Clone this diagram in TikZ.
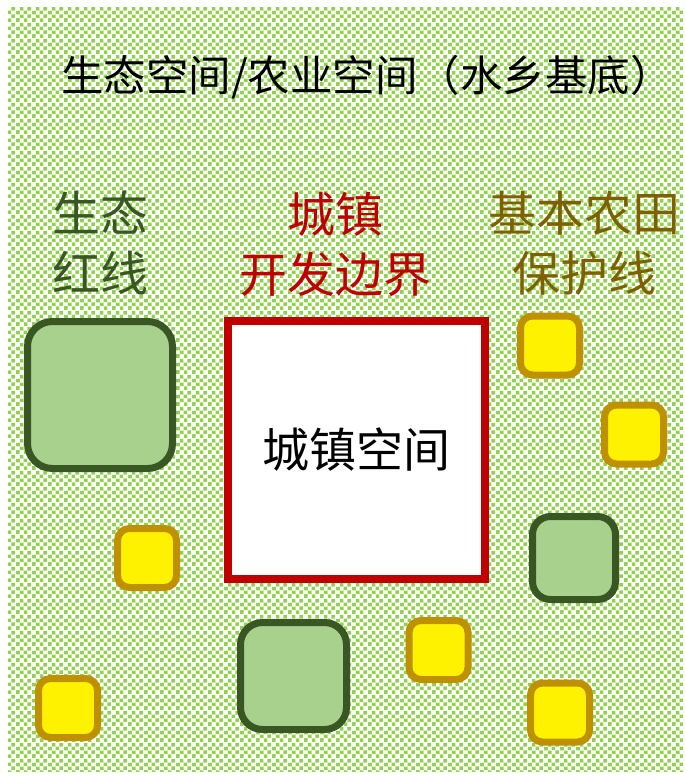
\documentclass[tikz,border=0pt]{standalone}
\usepackage{fontspec}
\setmainfont{Noto Sans CJK SC}
\usetikzlibrary{patterns.meta}
\definecolor{patgreen}{HTML}{92D050}
\definecolor{darkgreen}{HTML}{385723}
\definecolor{lightgreen}{HTML}{A9D18E}
\definecolor{deepred}{HTML}{C00000}
\definecolor{olive}{HTML}{7F6000}
\definecolor{gold}{HTML}{BF9000}
\tikzdeclarepattern{
  name=confetti,
  type=uncolored,
  bounding box={(0pt,0pt) and (16pt,16pt)},
  tile size={(16pt,16pt)},
  code={
    \fill (0.0pt,0.2pt) rectangle (3.8pt,4.0pt);
    \fill (8.3pt,0.0pt) rectangle (12.1pt,3.8pt);
    \fill (4.2pt,4.1pt) rectangle (8.0pt,7.9pt);
    \fill (12.0pt,4.3pt) rectangle (15.8pt,8.1pt);
    \fill (0.2pt,8.1pt) rectangle (4.0pt,11.9pt);
    \fill (8.0pt,8.3pt) rectangle (11.8pt,12.1pt);
    \fill (4.0pt,12.0pt) rectangle (7.8pt,15.8pt);
    \fill (12.2pt,12.1pt) rectangle (16.0pt,15.9pt);
  }
}
\tikzset{
  greenbox/.style={draw=darkgreen, fill=lightgreen, line width=7pt, rounded corners=#1, inner sep=0pt},
  yellowbox/.style={draw=gold, fill=yellow, line width=7pt, rounded corners=12pt, inner sep=0pt, minimum width=59pt, minimum height=59pt},
  citybox/.style={draw=deepred, fill=white, line width=8pt, inner sep=0pt, minimum width=257pt, minimum height=258pt},
  lbl/.style={align=center, font=\fontsize{48pt}{60pt}\selectfont, inner sep=0pt}
}
\begin{document}
\begin{tikzpicture}[x=1pt,y=-1pt]
\useasboundingbox (0,0) rectangle (685,773);
\fill[white] (0,0) rectangle (685,773);
\path[pattern={confetti}, pattern color=patgreen] (8,8) rectangle (683,771);
\node[font=\fontsize{42.5pt}{50pt}\selectfont, inner sep=0pt] (title) at (367,77) {生态空间/农业空间（水乡基底）};
\node[lbl, text=darkgreen] (eco) at (100,243) {生态\\红线};
\node[lbl, text=deepred] (urbb) at (335,244) {城镇\\开发边界};
\node[lbl, text=olive] (farm) at (584,243) {基本农田\\保护线};
\node[citybox, font=\fontsize{47pt}{56pt}\selectfont] (city) at (356.5,450) {城镇空间};
\node[greenbox=25pt, minimum width=145pt, minimum height=147pt] (g1) at (100,395) {};
\node[greenbox=18pt, minimum width=83pt, minimum height=83pt] (g2) at (574,558) {};
\node[greenbox=22pt, minimum width=106pt, minimum height=107pt] (g3) at (293.5,676) {};
\node[yellowbox] (y1) at (550,345.5) {};
\node[yellowbox] (y2) at (634,434.5) {};
\node[yellowbox] (y3) at (147,558) {};
\node[yellowbox] (y4) at (438.5,650) {};
\node[yellowbox] (y5) at (68,708) {};
\node[yellowbox] (y6) at (560,712.5) {};
\end{tikzpicture}
\end{document}
